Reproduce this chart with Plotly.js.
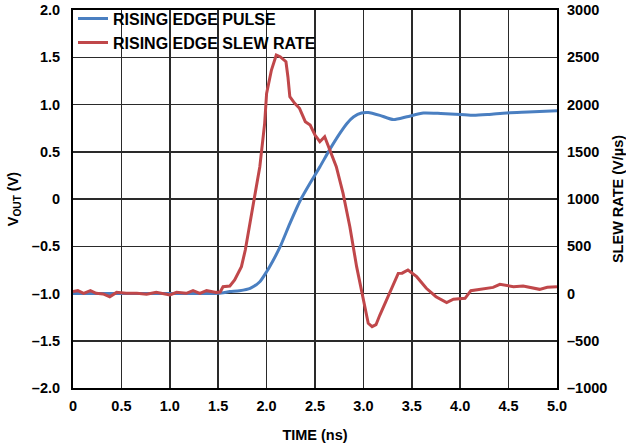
<!DOCTYPE html>
<html>
<head>
<meta charset="utf-8">
<script src="https://cdn.plot.ly/plotly-3.0.1.min.js"></script>
<style>html,body{margin:0;padding:0;background:#fff;}#chart{width:626px;height:446px;}</style>
</head>
<body>
<div id="chart"></div>
<script>
// Rising edge pulse (V)
const pulseTime = [0,0.5,1.0,1.5,1.62,1.72,1.83,1.93,2.0,2.07,2.14,2.24,2.35,2.45,2.55,2.65,2.76,2.83,2.90,2.98,3.05,3.17,3.31,3.45,3.62,3.8,4.0,4.14,4.3,4.48,4.7,5.0];
const pulseVolt = [-1.0,-1.0,-1.0,-0.997,-0.98,-0.97,-0.945,-0.875,-0.77,-0.645,-0.505,-0.26,-0.01,0.17,0.34,0.52,0.70,0.80,0.87,0.91,0.915,0.885,0.84,0.87,0.91,0.905,0.895,0.885,0.895,0.91,0.92,0.935];

// Rising edge slew rate (V/µs)
const slewTime = [0,0.05,0.11,0.18,0.24,0.31,0.38,0.45,0.55,0.66,0.76,0.86,1.0,1.07,1.17,1.24,1.31,1.38,1.48,1.52,1.55,1.62,1.67,1.74,1.78,1.83,1.88,1.93,1.98,2.00,2.05,2.10,2.14,2.20,2.22,2.24,2.29,2.34,2.40,2.45,2.50,2.55,2.60,2.65,2.72,2.79,2.86,2.93,3.00,3.05,3.09,3.13,3.17,3.26,3.36,3.40,3.46,3.55,3.65,3.75,3.86,3.93,4.05,4.11,4.22,4.34,4.41,4.55,4.65,4.75,4.82,4.9,5.0];
const slewRate = [20,30,2,30,2,-5,-34,12,2,2,-8,12,-16,12,2,30,2,30,12,15,72,79,143,284,460,743,1024,1342,1801,2118,2365,2524,2506,2453,2294,2083,2013,1960,1818,1783,1677,1606,1659,1519,1342,1060,707,284,-69,-315,-351,-330,-228,-16,213,215,249,178,55,-34,-97,-61,-51,30,44,65,97,72,80,55,44,65,72];

// Tick labels
const xTickVals = [0,0.5,1,1.5,2,2.5,3,3.5,4,4.5,5];
const xTickText = ['0','0.5','1.0','1.5','2.0','2.5','3.0','3.5','4.0','4.5','5.0'];
const yTickVals = [-2,-1.5,-1,-0.5,0,0.5,1,1.5,2];
const yTickText = ['\u20132.0','\u20131.5','\u20131.0','\u20130.5','0','0.5','1.0','1.5','2.0'];
const y2TickVals = [-1000,-500,0,500,1000,1500,2000,2500,3000];
const y2TickText = ['\u20131000','\u2013500','0','500','1000','1500','2000','2500','3000'];

const FONT = 'Liberation Sans, Arial, Helvetica, sans-serif';
const tickFont = {family: FONT, size: 14.5, color: '#000', weight: 'bold'};
const titleFont = {family: FONT, size: 14.5, color: '#000', weight: 'bold'};

const traces = [
  {x: pulseTime, y: pulseVolt, name: 'RISING EDGE PULSE', type: 'scatter', mode: 'lines',
   line: {color: '#4a7fc1', width: 3, shape: 'spline', smoothing: 0.6}, yaxis: 'y'},
  {x: slewTime, y: slewRate, name: 'RISING EDGE SLEW RATE', type: 'scatter', mode: 'lines',
   line: {color: '#c0474a', width: 3}, yaxis: 'y2'}
];

const layout = {
  width: 626, height: 446,
  margin: {l: 73, r: 69, t: 10, b: 58, pad: 0, autoexpand: false},
  paper_bgcolor: '#fff', plot_bgcolor: '#fff',
  showlegend: true,
  legend: {x: 0.0, y: 1.022, xanchor: 'left', yanchor: 'top', bgcolor: 'rgba(0,0,0,0)',
           font: {family: FONT, size: 16, color: '#000', weight: 'bold'},
           tracegroupgap: 0, itemwidth: 30},
  // white panel behind the legend (hides gridlines there, as in the reference)
  shapes: [{type: 'rect', xref: 'paper', yref: 'paper', x0: 0.004, x1: 0.49, y0: 0.895, y1: 0.996,
            fillcolor: '#fff', line: {width: 0}, layer: 'between'}],
  xaxis: {range: [0, 5], tickvals: xTickVals, ticktext: xTickText, tickfont: tickFont,
          showgrid: true, gridcolor: '#2a2a2a', gridwidth: 1.5, zeroline: false,
          showline: true, mirror: true, linecolor: '#000', linewidth: 2, ticks: '',
          ticklabelstandoff: 4,
          title: {text: 'TIME (ns)', font: titleFont, standoff: 16}, automargin: false},
  yaxis: {range: [-2, 2], tickvals: yTickVals, ticktext: yTickText, tickfont: tickFont,
          showgrid: true, gridcolor: '#2a2a2a', gridwidth: 1.5, zeroline: false,
          showline: true, mirror: true, linecolor: '#000', linewidth: 2, ticks: '',
          ticklabelstandoff: 8,
          title: {text: 'V<sub>OUT</sub> (V)', font: titleFont, standoff: 10}, automargin: false},
  yaxis2: {range: [-1000, 3000], tickvals: y2TickVals, ticktext: y2TickText, tickfont: tickFont,
           overlaying: 'y', side: 'right', showgrid: false, zeroline: false,
           showline: false, ticks: '', ticklabelstandoff: 9,
           title: {text: 'SLEW RATE (V/\u00b5s)', font: titleFont, standoff: 10}, automargin: false}
};

Plotly.newPlot('chart', traces, layout, {displayModeBar: false, staticPlot: true});
</script>
</body>
</html>
